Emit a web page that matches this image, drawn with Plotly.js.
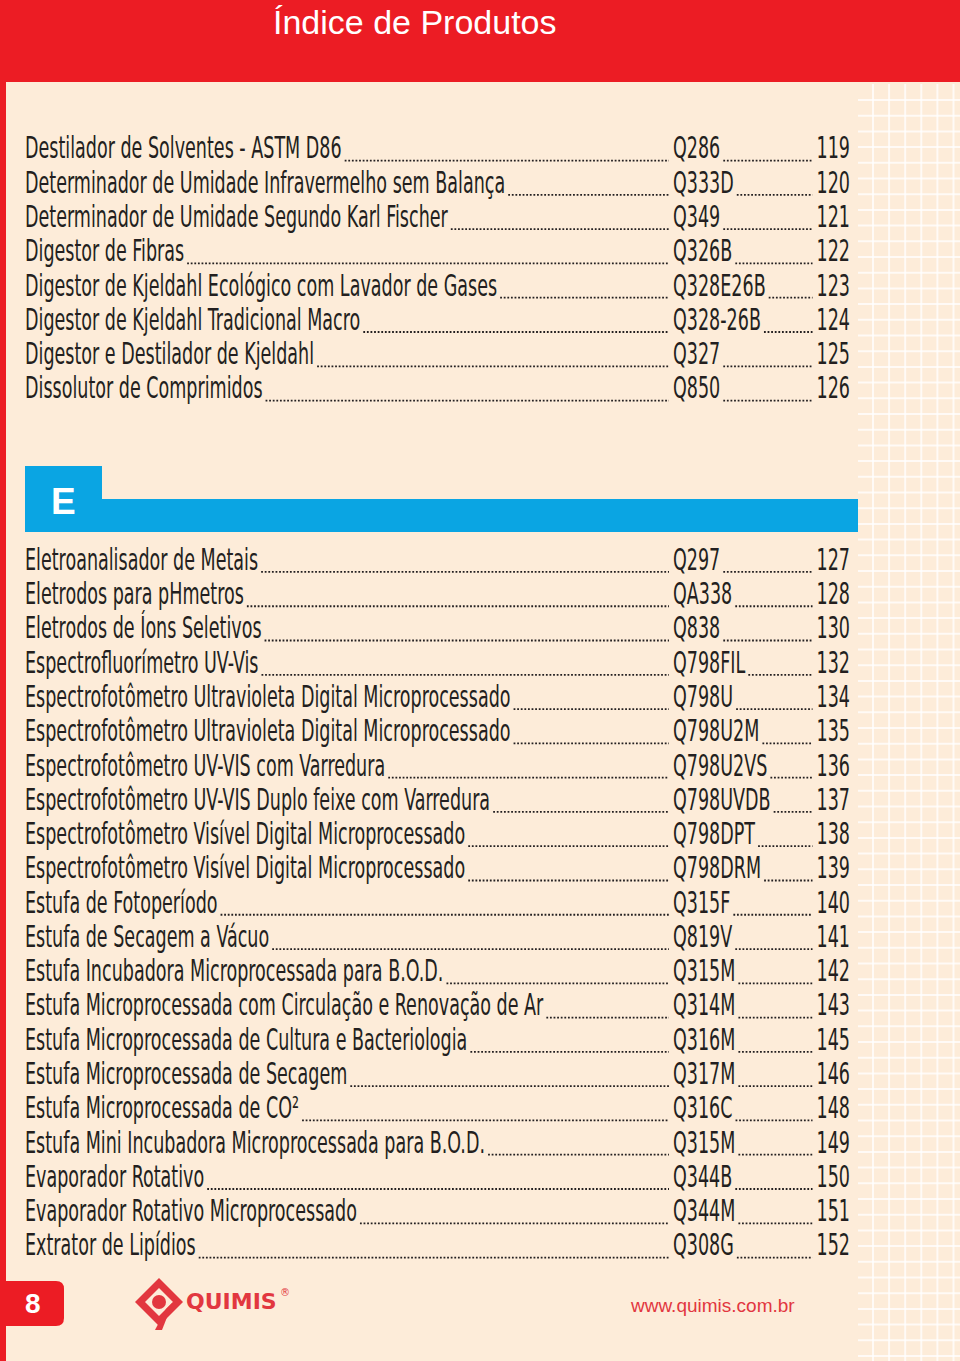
<!DOCTYPE html>
<html><head><meta charset="utf-8">
<script src="https://cdn.plot.ly/plotly-3.0.1.min.js"></script>
<style>html,body{margin:0;padding:0;background:#fdecd9;}#chart{width:960px;height:1361px;}</style>
</head><body><div id="chart"></div>
<script>
// ---- data ----
const pageTitle = "Índice de Produtos";
const sectionLetter = "E";
const pageNumber = "8";
const brandName = "QUIMIS";
const website = "www.quimis.com.br";

const namesD = [
  "Destilador de Solventes - ASTM D86",
  "Determinador de Umidade Infravermelho sem Balança",
  "Determinador de Umidade Segundo Karl Fischer",
  "Digestor de Fibras",
  "Digestor de Kjeldahl Ecológico com Lavador de Gases",
  "Digestor de Kjeldahl Tradicional Macro",
  "Digestor e Destilador de Kjeldahl",
  "Dissolutor de Comprimidos"
];
const codesD = ["Q286","Q333D","Q349","Q326B","Q328E26B","Q328-26B","Q327","Q850"];
const pagesD = ["119","120","121","122","123","124","125","126"];

const namesE = [
  "Eletroanalisador de Metais",
  "Eletrodos para pHmetros",
  "Eletrodos de Íons Seletivos",
  "Espectrofluorímetro UV-Vis",
  "Espectrofotômetro Ultravioleta Digital Microprocessado",
  "Espectrofotômetro Ultravioleta Digital Microprocessado",
  "Espectrofotômetro UV-VIS com Varredura",
  "Espectrofotômetro UV-VIS Duplo feixe com Varredura",
  "Espectrofotômetro Visível Digital Microprocessado",
  "Espectrofotômetro Visível Digital Microprocessado",
  "Estufa de Fotoperíodo",
  "Estufa de Secagem a Vácuo",
  "Estufa Incubadora Microprocessada para B.O.D.",
  "Estufa Microprocessada com Circulação e Renovação de Ar",
  "Estufa Microprocessada de Cultura e Bacteriologia",
  "Estufa Microprocessada de Secagem",
  "Estufa Microprocessada de CO²",
  "Estufa Mini Incubadora Microprocessada para B.O.D.",
  "Evaporador Rotativo",
  "Evaporador Rotativo Microprocessado",
  "Extrator de Lipídios"
];
const codesE = ["Q297","QA338","Q838","Q798FIL","Q798U","Q798U2M","Q798U2VS","Q798UVDB","Q798DPT","Q798DRM",
  "Q315F","Q819V","Q315M","Q314M","Q316M","Q317M","Q316C","Q315M","Q344B","Q344M","Q308G"];
const pagesE = ["127","128","130","132","134","135","136","137","138","139",
  "140","141","142","143","145","146","148","149","150","151","152"];

// ---- layout constants ----
const W = 960, H = 1361;
const ROW_PX = 34.28, FIRST_ROW_PX = 151;
const E_START_ROW = 12;
const FONT = '"Liberation Sans Narrow", "DejaVu Sans Condensed", "Arial Narrow", sans-serif';
const FS = 30;
const SX = 0.65;           // horizontal condensing of the list font
const INK = '#231f20';
const RED = '#ec1c24';
const BLUE = '#0aa5e3';
const LOGO_RED = '#e2373f';
const BG = '#fdecd9';
const NAME_X = 25, CODE_X = 673, PAGE_X = 850;

const names = namesD.concat(namesE);
const codes = codesD.concat(codesE);
const pages = pagesD.concat(pagesE);
const rows = namesD.map((_, i) => i).concat(namesE.map((_, i) => E_START_ROW + i));

// text measuring for dot leaders
const ctx = document.createElement('canvas').getContext('2d');
function textW(t, size) {
  ctx.font = size + 'px ' + FONT;
  return ctx.measureText(t).width * SX;
}
const dotX = [], dotY = [];
const BASE = 9.6 / ROW_PX;
rows.forEach((r, i) => {
  const s1 = NAME_X + textW(names[i], FS) + 3, e1 = CODE_X - 4;
  dotX.push(s1, e1, null); dotY.push(r + BASE, r + BASE, null);
  const s2 = CODE_X + textW(codes[i], FS) + 3, e2 = PAGE_X - textW(pages[i], FS) - 4;
  dotX.push(s2, e2, null); dotY.push(r + BASE, r + BASE, null);
});

const txtFont = {family: FONT, size: FS, color: INK};
const traces = [
  {type: 'scatter', mode: 'lines', x: dotX, y: dotY, hoverinfo: 'skip',
   line: {color: INK, width: 1.8, dash: '1.8px,1.8px'}, connectgaps: false},
  {type: 'scatter', mode: 'text', x: rows.map(() => NAME_X), y: rows, text: names,
   textposition: 'middle right', textfont: txtFont, hoverinfo: 'skip'},
  {type: 'scatter', mode: 'text', x: rows.map(() => CODE_X), y: rows, text: codes,
   textposition: 'middle right', textfont: txtFont, hoverinfo: 'skip'},
  {type: 'scatter', mode: 'text', x: rows.map(() => PAGE_X), y: rows, text: pages,
   textposition: 'middle left', textfont: txtFont, hoverinfo: 'skip'}
];

// ---- decorations (pixel coords on x / y2) ----
const shapes = [];
for (let gx = 873; gx < W; gx += 16.1) {
  shapes.push({type: 'line', xref: 'x', yref: 'y2', x0: gx, x1: gx, y0: 84, y1: H, layer: 'below',
    line: {color: 'rgba(255,255,255,0.75)', width: 2}});
}
for (let gy = 100; gy < H; gy += 15.7) {
  shapes.push({type: 'line', xref: 'x', yref: 'y2', x0: 858, x1: W, y0: gy, y1: gy, layer: 'below',
    line: {color: 'rgba(255,255,255,0.75)', width: 2}});
}
shapes.push({type: 'rect', xref: 'x', yref: 'y2', x0: 0, x1: W, y0: 0, y1: 82, fillcolor: RED, line: {width: 0}, layer: 'below'});
shapes.push({type: 'rect', xref: 'x', yref: 'y2', x0: 0, x1: 6, y0: 82, y1: H, fillcolor: RED, line: {width: 0}, layer: 'below'});
shapes.push({type: 'rect', xref: 'x', yref: 'y2', x0: 25, x1: 102, y0: 466, y1: 532, fillcolor: BLUE, line: {width: 0}, layer: 'below'});
shapes.push({type: 'rect', xref: 'x', yref: 'y2', x0: 25, x1: 858, y0: 499, y1: 532, fillcolor: BLUE, line: {width: 0}, layer: 'below'});
shapes.push({type: 'path', xref: 'x', yref: 'y2', path: 'M0,1281 H56 Q64,1281 64,1289 V1318 Q64,1326 56,1326 H0 Z',
  fillcolor: RED, line: {width: 0}, layer: 'below'});
// logo
shapes.push({type: 'path', xref: 'x', yref: 'y2', path: 'M135,1302 L159,1278 L183,1302 L159,1326 Z',
  fillcolor: LOGO_RED, line: {width: 0}});
shapes.push({type: 'path', xref: 'x', yref: 'y2', path: 'M145,1302 L159,1288 L173,1302 L159,1316 Z',
  fillcolor: BG, line: {width: 0}});
shapes.push({type: 'circle', xref: 'x', yref: 'y2', x0: 152, x1: 166, y0: 1295, y1: 1309,
  fillcolor: LOGO_RED, line: {width: 0}});
shapes.push({type: 'path', xref: 'x', yref: 'y2', path: 'M166,1309 L173,1302 L162,1330 L155,1330 Z',
  fillcolor: LOGO_RED, line: {width: 0}});

const annotations = [
  {xref: 'x', yref: 'y2', x: 271, y: 22, text: pageTitle, showarrow: false, xanchor: 'left', yanchor: 'middle',
   font: {family: '"Liberation Sans", Arial, sans-serif', size: 34, color: '#ffffff'}},
  {xref: 'x', yref: 'y2', x: 63, y: 501, text: '<b>' + sectionLetter + '</b>', showarrow: false, xanchor: 'center', yanchor: 'middle',
   font: {family: '"Liberation Sans", Arial, sans-serif', size: 37, color: '#ffffff'}},
  {xref: 'x', yref: 'y2', x: 33, y: 1303, text: '<b>' + pageNumber + '</b>', showarrow: false, xanchor: 'center', yanchor: 'middle',
   font: {family: '"Liberation Sans", Arial, sans-serif', size: 28, color: '#ffffff'}},
  {xref: 'x', yref: 'y2', x: 184, y: 1301, text: '<b>' + brandName + '</b>', showarrow: false, xanchor: 'left', yanchor: 'middle',
   font: {family: '"DejaVu Sans", sans-serif', size: 22, color: LOGO_RED}},
  {xref: 'x', yref: 'y2', x: 278, y: 1292, text: '®', showarrow: false, xanchor: 'left', yanchor: 'middle',
   font: {family: '"DejaVu Sans", sans-serif', size: 10, color: LOGO_RED}},
  {xref: 'x', yref: 'y2', x: 797, y: 1305, text: website, showarrow: false, xanchor: 'right', yanchor: 'middle',
   font: {family: '"Liberation Sans", Arial, sans-serif', size: 19, color: LOGO_RED}}
];

const layout = {
  width: W, height: H,
  margin: {l: 0, r: 0, t: 0, b: 0, pad: 0},
  paper_bgcolor: BG, plot_bgcolor: 'rgba(0,0,0,0)',
  showlegend: false,
  xaxis: {range: [0, W], visible: false, fixedrange: true},
  yaxis: {range: [(H - FIRST_ROW_PX) / ROW_PX, -FIRST_ROW_PX / ROW_PX], visible: false, fixedrange: true},
  yaxis2: {range: [H, 0], overlaying: 'y', visible: false, fixedrange: true},
  shapes: shapes,
  annotations: annotations
};
Plotly.newPlot('chart', traces, layout, {staticPlot: true, displayModeBar: false}).then(function () {
  // condense the list font horizontally around each text's anchor point
  document.querySelectorAll('#chart g.textpoint text').forEach(function (el) {
    const x = parseFloat(el.getAttribute('x')) || 0;
    el.setAttribute('transform', 'translate(' + x + ',0) scale(' + SX + ',1) translate(' + (-x) + ',0)');
  });
});
</script>
</body></html>
